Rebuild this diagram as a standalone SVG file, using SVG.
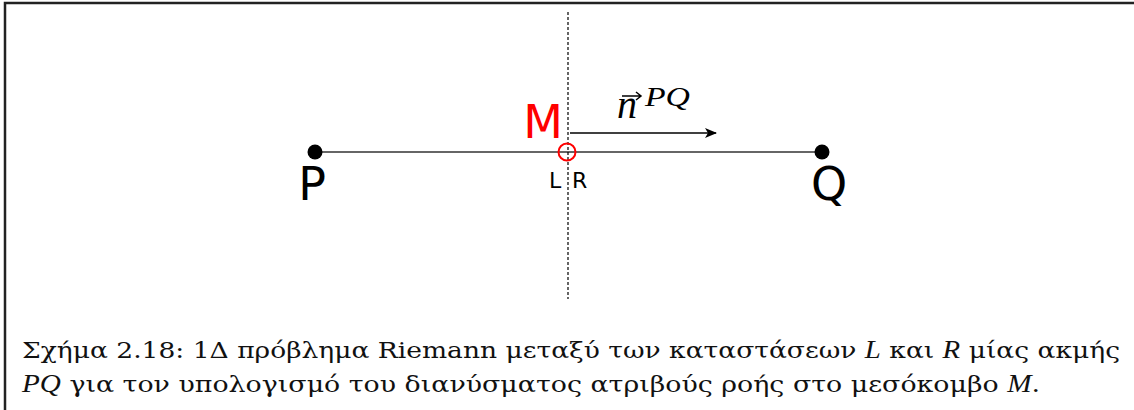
<svg xmlns="http://www.w3.org/2000/svg" width="1134" height="410" viewBox="0 0 1134 410">
<style>
.sans{font-family:"DejaVu Sans","Liberation Sans",sans-serif}
.cap{font-family:"DejaVu Serif","Liberation Serif",serif;font-size:23px;fill:#111}
.mi{font-family:"Liberation Serif",serif;font-style:italic}
</style>
<defs>
<marker id="ah" viewBox="0 0 12 10" refX="11" refY="5" markerWidth="12" markerHeight="10" markerUnits="userSpaceOnUse" orient="auto">
<path d="M0,0 L12,5 L0,10 L3,5 Z" fill="#000"/>
</marker>
</defs>
<rect width="1134" height="410" fill="#fff"/>
<path d="M5,410 V3 H1134" fill="none" stroke="#222" stroke-width="2.5"/>
<g id="connectors">
<line x1="315" y1="152" x2="822" y2="152" stroke="#333" stroke-width="1.6"/>
<line x1="568" y1="12" x2="568" y2="299" stroke="#000" stroke-width="1.2" stroke-dasharray="3,2"/>
<line x1="570" y1="133" x2="716" y2="133" stroke="#000" stroke-width="1.6" marker-end="url(#ah)"/>
</g>
<g id="node-P">
<circle cx="315" cy="152" r="7.5" fill="#000"/>
<text x="312" y="200" class="sans" font-size="46" text-anchor="middle">P</text>
</g>
<g id="node-Q">
<circle cx="822" cy="152" r="7.5" fill="#000"/>
<text x="829" y="200" class="sans" font-size="46" text-anchor="middle">Q</text>
</g>
<g id="node-M">
<circle cx="567" cy="152" r="8.5" fill="none" stroke="#f00" stroke-width="2"/>
<text x="543" y="138" class="sans" font-size="46" fill="#f00" text-anchor="middle">M</text>
<text x="549" y="188" class="sans" font-size="22">L</text>
<text x="572" y="188" class="sans" font-size="22">R</text>
</g>
<g id="label-n">
<text x="617" y="118" class="mi" font-size="40">n</text>
<path d="M622,96 H640 M636,92 L641,96 L636,100" fill="none" stroke="#000" stroke-width="1.5"/>
<text x="645" y="106" class="mi" font-size="28" textLength="45" lengthAdjust="spacingAndGlyphs">PQ</text>
</g>
<g id="caption">
<text x="22" y="358" class="cap" textLength="1098" lengthAdjust="spacingAndGlyphs">Σχήμα 2.18:  1Δ πρόβλημα Riemann μεταξύ των καταστάσεων <tspan class="mi" font-size="25">L</tspan> και <tspan class="mi" font-size="25">R</tspan> μίας ακμής</text>
<text x="22" y="392" class="cap" textLength="1018" lengthAdjust="spacingAndGlyphs"><tspan class="mi" font-size="25">PQ</tspan> για τον υπολογισμό του διανύσματος ατριβούς ροής στο μεσόκομβο <tspan class="mi" font-size="25">M</tspan>.</text>
</g>
</svg>
